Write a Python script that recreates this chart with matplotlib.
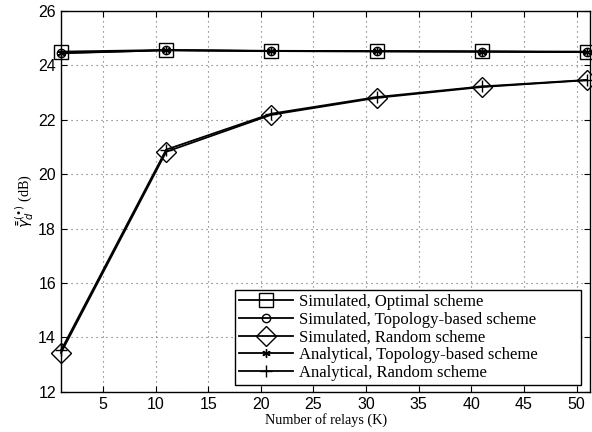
import matplotlib
matplotlib.use("Agg")
import matplotlib.pyplot as plt

K = [1, 11, 21, 31, 41, 51]
opt_sim = [24.50, 24.56, 24.53, 24.52, 24.51, 24.50]
topo_sim = [24.44, 24.55, 24.52, 24.51, 24.50, 24.48]
rand_sim = [13.43, 20.82, 22.18, 22.80, 23.20, 23.45]
topo_ana = [24.45, 24.55, 24.52, 24.51, 24.50, 24.48]
rand_ana = [13.52, 20.90, 22.22, 22.83, 23.22, 23.46]

labels = ["Simulated, Optimal scheme",
          "Simulated, Topology-based scheme",
          "Simulated, Random scheme",
          "Analytical, Topology-based scheme",
          "Analytical, Random scheme"]
xticks = [5, 10, 15, 20, 25, 30, 35, 40, 45, 50]
yticks = [12, 14, 16, 18, 20, 22, 24, 26]

fig = plt.figure(figsize=(5.92, 4.32), dpi=100)
ax = fig.add_axes([0.103, 0.093, 0.894, 0.882])

lw = 1.3
ax.plot(K, opt_sim, color='k', lw=lw, marker='s', ms=9.5, mfc='none', mec='k', mew=1.0, label=labels[0], clip_on=False, zorder=3)
ax.plot(K, topo_sim, color='k', lw=lw, marker='o', ms=6, mfc='none', mec='k', mew=1.0, label=labels[1], clip_on=False, zorder=3)
ax.plot(K, rand_sim, color='k', lw=lw, marker='D', ms=10, mfc='none', mec='k', mew=1.0, label=labels[2], clip_on=False, zorder=3)
ax.plot(K, topo_ana, color='k', lw=lw, marker=(6, 2, 0), ms=6, mec='k', mew=1.0, label=labels[3], clip_on=False, zorder=3)
ax.plot(K, rand_ana, color='k', lw=lw, marker='+', ms=9, mec='k', mew=1.0, label=labels[4], clip_on=False, zorder=3)

ax.set_xlim(1, 51.3)
ax.set_ylim(12, 26)
ax.set_xticks(xticks)
ax.set_yticks(yticks)
ax.tick_params(direction='in', top=True, right=True, length=4, labelsize=11.5)
for lab in ax.get_xticklabels() + ax.get_yticklabels():
    lab.set_family('Liberation Sans')
ax.grid(True, linestyle=(0, (1, 3.5)), color='#666666', lw=0.8)
for s in ax.spines.values():
    s.set_linewidth(1.0)

ax.set_xlabel("Number of relays (K)", family='Liberation Serif', fontsize=10.2, labelpad=1)
ax.set_ylabel(r"$\bar{\bar{\gamma}}_d^{(\bullet)}$ (dB)", family='Liberation Serif', fontsize=10.2, labelpad=1)

leg = ax.legend(loc='lower left', mode='expand', prop={'family': 'Liberation Serif', 'size': 12},
                handlelength=3.2, fancybox=False, edgecolor='k', framealpha=1,
                borderpad=0.25, labelspacing=0.1, handletextpad=0.4, borderaxespad=0,
                bbox_to_anchor=(0.329, 0.018, 0.654, 0.252))
leg.get_frame().set_linewidth(1.0)

fig.savefig("out.png", dpi=100)
